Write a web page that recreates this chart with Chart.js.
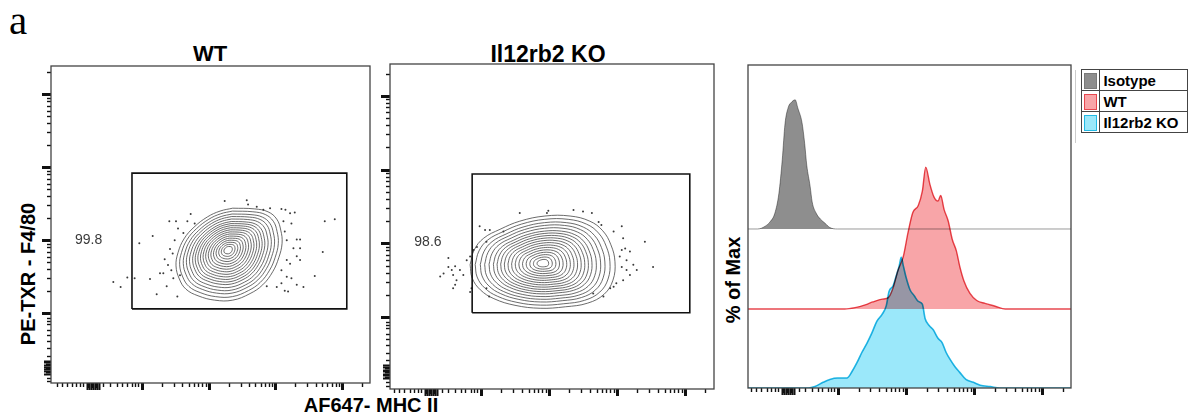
<!DOCTYPE html>
<html>
<head>
<meta charset="utf-8">
<script src="https://cdn.jsdelivr.net/npm/chart.js@4.4.0/dist/chart.umd.min.js"></script>
<style>
  body{margin:0;background:#fff;width:1188px;height:419px;overflow:hidden;position:relative;font-family:"Liberation Sans",Arial,sans-serif;}
  canvas{position:absolute;}
  .t{position:absolute;font-weight:bold;color:#000;white-space:nowrap;line-height:1;}
  .rot{transform:translate(-50%,-50%) rotate(-90deg);}
  #legend{position:absolute;left:1081px;top:69px;border-collapse:collapse;font-weight:bold;font-size:15px;}
  #legend td{border:1.5px solid #444;height:20px;padding:0;}
  #legend td.sw{width:18px;text-align:center;}
  #legend td.tx{width:88px;padding-left:3px;}
  .box{display:inline-block;width:11px;height:14px;vertical-align:middle;border:1.5px solid;}
</style>
</head>
<body>
<div class="t" style="left:9px;top:0px;font-family:'Liberation Serif',serif;font-weight:normal;font-size:41px;">a</div>
<div class="t" style="left:210px;top:43px;font-size:22px;transform:translateX(-50%);">WT</div>
<div class="t" style="left:548px;top:43px;font-size:23px;transform:translateX(-50%);">Il12rb2 KO</div>
<div class="t rot" style="left:28px;top:274px;font-size:20px;">PE-TXR - F4/80</div>
<div class="t" style="left:371px;top:395px;font-size:20px;transform:translateX(-50%);">AF647- MHC II</div>
<div class="t rot" style="left:733px;top:280px;font-size:20px;">% of Max</div>
<div style="position:absolute;left:1075px;top:70px;width:1px;height:73px;background:#ccc;"></div>
<table id="legend">
  <tr><td class="sw"><span class="box" style="background:#8e8e8e;border-color:#7a7a7a"></span></td><td class="tx">Isotype</td></tr>
  <tr><td class="sw"><span class="box" style="background:#f8a5a8;border-color:#e8474f"></span></td><td class="tx">WT</td></tr>
  <tr><td class="sw"><span class="box" style="background:#9be8fa;border-color:#22b9e4"></span></td><td class="tx">Il12rb2 KO</td></tr>
</table>
<canvas id="wtPlot"></canvas>
<canvas id="koPlot"></canvas>
<canvas id="histPlot"></canvas>
<script>
// axis units are log decades: 2 = 10^2 ... 5 = 10^5, ~1.25 = biexponential zero
const majorTicks = [2, 3, 4, 5];
const minorOffsets = [0.301, 0.477, 0.602, 0.699, 0.778, 0.845, 0.903, 0.954];
const lowTicks = [0.72, 0.80, 0.87, 0.95, 1.01, 1.07, 1.12, 1.42, 1.52, 1.62, 1.70, 1.77, 1.85, 1.89, 1.94];
const zeroCrowd = [1.17, 1.19, 1.21, 1.23, 1.25, 1.27, 1.29, 1.31, 1.33, 1.35];

// contour plots: outermost contour, density peak, nested contour levels
const ringScales = [1, 0.93, 0.86, 0.80, 0.74, 0.68, 0.63, 0.58, 0.53, 0.48, 0.43, 0.38, 0.33, 0.28, 0.23, 0.18, 0.13, 0.08];

const wtOuter = [[3.36,3.44],[3.69,3.43],[3.89,3.39],[4.02,3.29],[4.08,3.14],[4.10,2.96],[4.05,2.76],[3.96,2.57],[3.81,2.39],[3.62,2.27],[3.36,2.18],[3.09,2.18],[2.84,2.24],[2.66,2.33],[2.56,2.47],[2.51,2.65],[2.54,2.83],[2.63,3.02],[2.78,3.18],[2.98,3.32],[3.17,3.40]];
const wtCenter = [3.29, 2.87];
const wtDotX = [1.57,1.68,1.78,1.89,1.96,2.12,2.16,2.22,2.34,2.41,2.42,2.44,2.47,2.51,2.53,2.54,2.57,2.68,2.73,2.79,2.37,2.27,2.32,2.39,2.46,2.49,2.62,3.24,3.57,3.59,3.72,3.82,3.92,4.09,4.15,4.22,4.12,4.24,4.29,4.14,4.32,4.37,4.17,4.27,4.37,4.32,4.37,4.17,4.22,4.09,4.17,4.24,4.32,4.42,4.09,4.14,4.02,3.87,4.74,4.89,4.71,4.59,4.19];
const wtDotY = [2.43,2.36,2.49,2.48,2.96,2.47,3.06,2.26,2.74,3.26,2.88,2.59,2.48,3.26,2.23,3.16,2.52,3.26,3.36,3.23,2.37,2.55,2.55,2.66,2.82,3.00,3.10,3.54,3.55,3.49,3.46,3.42,3.44,3.43,3.42,3.37,3.26,3.23,3.38,3.12,3.01,3.01,3.00,2.89,2.89,2.78,2.73,2.73,2.68,2.59,2.50,2.48,2.39,2.36,2.41,2.31,2.36,2.37,3.26,3.29,2.84,2.51,2.30];
const wtGate = [1.85, 5.07, 2.06, 3.92]; // x1, x2, y1, y2
const wtGatePct = '99.8';

const koOuter = [[1.84,2.71],[1.90,2.91],[2.04,3.07],[2.28,3.19],[2.57,3.30],[2.94,3.37],[3.31,3.37],[3.60,3.30],[3.79,3.17],[3.91,2.98],[3.97,2.75],[3.94,2.50],[3.81,2.31],[3.57,2.19],[3.24,2.14],[2.87,2.12],[2.50,2.16],[2.19,2.25],[1.99,2.37],[1.87,2.53]];
const koCenter = [2.91, 2.73];
const koDotX = [1.45,1.52,1.57,1.62,1.59,1.64,1.62,1.59,1.69,1.74,1.79,1.84,1.89,1.94,1.98,2.06,2.08,2.13,2.33,2.57,2.99,2.97,3.36,3.50,3.63,3.73,3.77,3.95,4.07,4.09,4.07,4.12,4.19,4.04,4.14,4.24,4.29,4.19,4.09,3.99,3.95,3.90,3.80,3.65,4.41,4.53,4.07,4.14,2.12,2.08,1.86,1.84,1.52,1.40];
const koDotY = [2.59,2.68,2.64,2.69,2.57,2.50,2.44,2.39,2.64,2.57,2.77,2.82,2.91,2.95,3.23,3.18,3.02,3.18,3.16,3.41,3.44,3.41,3.45,3.43,3.41,3.29,3.25,3.16,3.23,3.07,2.91,2.93,2.89,2.82,2.77,2.71,2.64,2.57,2.50,2.46,2.41,2.39,2.28,2.32,3.02,2.68,2.68,2.64,2.28,2.39,2.39,2.34,2.80,2.55];
const koGate = [1.87, 5.07, 2.06, 3.94];
const koGatePct = '98.6';

// histograms, % of max
const isoX = [0.82,0.93,1.00,1.07,1.13,1.18,1.22,1.27,1.31,1.37,1.41,1.47,1.51,1.54,1.59,1.62,1.68,1.74,1.81,1.88,1.99];
const isoY = [0,2,5,11,25,49,74,86,89,91,85,75,60,45,30,19,11,7,4,1,0];
const wtX = [2.10,2.25,2.40,2.51,2.65,2.74,2.81,2.88,2.96,3.03,3.10,3.18,3.24,3.29,3.35,3.41,3.47,3.51,3.56,3.62,3.68,3.74,3.79,3.85,3.94,4.04,4.16,4.31,4.46];
const wtY = [0,1,3,5,7,8,15,27,37,54,68,73,83,100,88,79,76,80,70,62,49,41,30,20,11,6,4,2,0];
const koX = [1.56,1.66,1.78,1.88,1.99,2.13,2.21,2.28,2.35,2.43,2.50,2.57,2.65,2.71,2.75,2.81,2.85,2.90,2.93,2.96,3.00,3.06,3.12,3.18,3.24,3.28,3.34,3.40,3.47,3.53,3.59,3.65,3.72,3.79,3.88,3.99,4.09,4.24,4.38];
const koY = [0,1,4,6,7,7,12,18,25,32,39,47,52,58,68,72,78,86,92,86,78,69,65,61,59,49,44,41,35,32,25,20,15,11,6,4,2,1,0];
const laneOffset = {ko: 0, wt: 55.6, iso: 112};

const FONT = '"Liberation Sans", Arial, sans-serif';
const PAD = 14;

const flowAxes = {
  id: 'flowAxes',
  afterDraw(chart, args, opts){
    const {ctx, chartArea: a} = chart;
    const mark = (scale, v, len, w) => {
      if(v < scale.min || v > scale.max) return;
      const p = Math.round(scale.getPixelForValue(v)) + 0.5;
      ctx.lineWidth = w;
      ctx.beginPath();
      if(scale.axis === 'x'){ ctx.moveTo(p, a.bottom); ctx.lineTo(p, a.bottom + len); }
      else { ctx.moveTo(a.left - len, p); ctx.lineTo(a.left, p); }
      ctx.stroke();
    };
    ctx.save();
    ctx.strokeStyle = '#111';
    const list = opts.yTicks ? [chart.scales.x, chart.scales.y] : [chart.scales.x];
    list.forEach(s => {
      lowTicks.forEach(v => mark(s, v, 4, 1.4));
      zeroCrowd.forEach((v, i) => mark(s, v, i % 3 === 1 ? 5 : 7, 2));
      majorTicks.forEach(d => {
        mark(s, d, s.axis === 'x' ? 7 : 9, 3);
        minorOffsets.forEach(o => mark(s, d + o, 4, 1.4));
      });
    });
    ctx.strokeStyle = '#444';
    ctx.lineWidth = 1.3;
    ctx.strokeRect(a.left, a.top, a.right - a.left, a.bottom - a.top);
    ctx.restore();
  }
};

const gateLabel = {
  id: 'gateLabel',
  afterDatasetsDraw(chart, args, opts){
    if(!opts.text) return;
    const {ctx} = chart;
    ctx.save();
    ctx.font = '14px ' + FONT;
    ctx.fillStyle = '#3a3a3a';
    ctx.textAlign = 'center';
    ctx.textBaseline = 'middle';
    ctx.fillText(opts.text, chart.scales.x.getPixelForValue(opts.x), chart.scales.y.getPixelForValue(opts.y));
    ctx.restore();
  }
};

const multiplyFill = {
  id: 'multiplyFill',
  beforeDatasetsDraw(chart){ chart.ctx.save(); chart.ctx.globalCompositeOperation = 'multiply'; },
  afterDatasetsDraw(chart){ chart.ctx.restore(); }
};

function placeCanvas(id, box){
  const cv = document.getElementById(id);
  cv.width = box.w + 2 * PAD;
  cv.height = box.h + 2 * PAD;
  cv.style.left = (box.x - PAD) + 'px';
  cv.style.top = (box.y - PAD) + 'px';
  return cv;
}

function ringSets(outer, center){
  return ringScales.map(s => {
    const pts = outer.map(p => ({x: center[0] + s * (p[0] - center[0]), y: center[1] + s * (p[1] - center[1])}));
    pts.push(pts[0]);
    return {data: pts, borderColor: 'rgba(70,70,70,0.8)', borderWidth: 1, pointRadius: 0, tension: 0.4};
  });
}

function flowPlot(id, box, xr, yr, outer, center, dotX, dotY, gate, pct, pctPos){
  const g = gate;
  const datasets = [
    {data: [{x:g[0],y:g[2]},{x:g[1],y:g[2]},{x:g[1],y:g[3]},{x:g[0],y:g[3]},{x:g[0],y:g[2]}],
     borderColor: '#111', borderWidth: 1.6, pointRadius: 0, tension: 0},
    {data: dotX.map((x, i) => ({x, y: dotY[i]})), showLine: false,
     pointRadius: 1, pointBorderWidth: 0, pointBackgroundColor: '#3a3a3a'},
    ...ringSets(outer, center)
  ];
  return new Chart(placeCanvas(id, box), {
    type: 'line',
    data: {datasets},
    options: {
      responsive: false, animation: false, events: [],
      layout: {padding: PAD},
      scales: {
        x: {type: 'linear', min: xr[0], max: xr[1], display: false},
        y: {type: 'linear', min: yr[0], max: yr[1], display: false}
      },
      plugins: {
        legend: {display: false}, tooltip: {enabled: false},
        flowAxes: {yTicks: true},
        gateLabel: {text: pct, x: pctPos[0], y: pctPos[1]}
      }
    },
    plugins: [flowAxes, gateLabel]
  });
}

flowPlot('wtPlot', {x:51, y:66, w:319, h:317}, [0.636, 5.418], [1.045, 5.388],
  wtOuter, wtCenter, wtDotX, wtDotY, wtGate, wtGatePct, [1.2, 3.0]);
flowPlot('koPlot', {x:390, y:64, w:324, h:325}, [0.662, 5.426], [1.026, 5.43],
  koOuter, koCenter, koDotX, koDotY, koGate, koGatePct, [1.22, 3.02]);

// offset histogram
const hxMin = 0.676, hxMax = 5.426;
function lane(xs, ys, off){
  const pts = xs.map((x, i) => ({x, y: ys[i] + off}));
  return [{x: hxMin, y: off}, ...pts, {x: hxMax, y: off}];
}
new Chart(placeCanvas('histPlot', {x:748, y:65, w:323, h:323}), {
  type: 'line',
  data: {datasets: [
    {label: 'Il12rb2 KO', data: lane(koX, koY, laneOffset.ko), fill: {value: laneOffset.ko},
     backgroundColor: '#9be8fa', borderColor: '#22b9e4', borderWidth: 1.6, order: 0},
    {label: 'WT', data: lane(wtX, wtY, laneOffset.wt), fill: {value: laneOffset.wt},
     backgroundColor: '#f8a5a8', borderColor: '#e8474f', borderWidth: 1.4, order: 1},
    {label: 'Isotype', data: lane(isoX, isoY, laneOffset.iso), fill: {value: laneOffset.iso},
     backgroundColor: '#8e8e8e', borderColor: '#9a9a9a', borderWidth: 1, order: 2}
  ]},
  options: {
    responsive: false, animation: false, events: [],
    layout: {padding: PAD},
    elements: {point: {radius: 0}, line: {cubicInterpolationMode: 'monotone'}},
    scales: {
      x: {type: 'linear', min: hxMin, max: hxMax, display: false},
      y: {type: 'linear', min: 0, max: 227.5, display: false}
    },
    plugins: {legend: {display: false}, tooltip: {enabled: false}, flowAxes: {yTicks: false}}
  },
  plugins: [multiplyFill, flowAxes]
});
</script>
</body>
</html>
